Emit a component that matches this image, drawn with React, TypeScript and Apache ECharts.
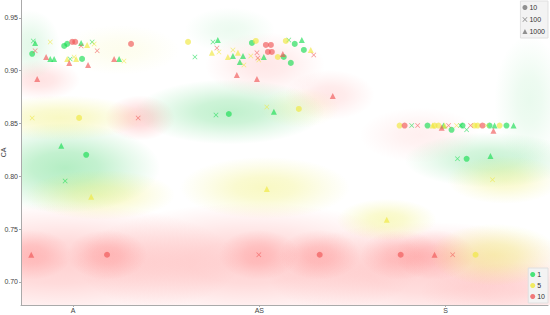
import React, { useEffect, useRef } from "react";
import * as echarts from "echarts";

// Category ticks (x positions 0,1,2 on a jittered value axis)
const categories = ["A", "AS", "S"];
const yTicks = [0.7, 0.75, 0.8, 0.85, 0.9, 0.95];

// Points: [x (category + jitter), CA]
// green = 1, yellow = 5, red = 10 ; circle = 10, cross = 100, triangle = 1000
const greenCircle = [
  [-0.22, 0.916], [-0.048, 0.9235], [-0.032, 0.9254], [0.048, 0.9112], [0.07, 0.8203],
  [0.836, 0.859], [0.96, 0.9263], [1.131, 0.913], [1.169, 0.9074], [1.19, 0.9254], [1.239, 0.9197],
  [2.113, 0.8165], [1.903, 0.848], [2.032, 0.844], [2.091, 0.848], [2.236, 0.848], [2.327, 0.848],
];
const greenCross = [
  [-0.214, 0.9282], [-0.016, 0.9112], [0.102, 0.9273], [-0.043, 0.7956],
  [0.751, 0.9273], [0.654, 0.913], [1.158, 0.9292], [0.767, 0.8581],
  [2.064, 0.8165], [1.818, 0.848], [2.08, 0.848], [2.113, 0.844],
];
const greenTri = [
  [-0.204, 0.9263], [-0.123, 0.9112], [-0.102, 0.9112], [0.043, 0.9263], [0.247, 0.9112], [-0.064, 0.8288],
  [0.777, 0.9292], [0.858, 0.914], [0.912, 0.914], [0.895, 0.9083], [1.024, 0.913], [1.228, 0.9292], [1.078, 0.861],
  [2.241, 0.8193], [1.989, 0.848], [2.263, 0.848], [2.365, 0.848],
];
const yellowCircle = [
  [0.032, 0.8553], [0.617, 0.9273], [0.981, 0.9282], [1.099, 0.913], [1.142, 0.9282], [1.212, 0.8638],
  [2.161, 0.7256], [1.753, 0.848], [1.941, 0.848], [1.962, 0.848], [2.155, 0.848], [2.172, 0.848], [2.29, 0.848],
];
const yellowCross = [
  [-0.123, 0.9273], [-0.22, 0.8553], [0.113, 0.9254], [0.005, 0.913], [0.273, 0.9093],
  [0.783, 0.9178], [0.858, 0.9197], [0.917, 0.9055], [0.954, 0.914], [0.997, 0.9102], [1.04, 0.8657],
  [2.252, 0.7966], [2.059, 0.848], [2.22, 0.848],
];
const yellowTri = [
  [-0.032, 0.9112], [0.016, 0.9112], [0.075, 0.9244], [0.097, 0.7805],
  [0.745, 0.9169], [0.831, 0.913], [0.885, 0.9169], [1.276, 0.9197], [1.04, 0.788],
  [1.684, 0.7587], [1.93, 0.848], [1.995, 0.848],
];
const redCircle = [
  [-0.005, 0.9273], [0.011, 0.9273], [0.311, 0.9254], [0.182, 0.7256],
  [1.035, 0.9244], [1.062, 0.9244], [1.046, 0.9178], [1.067, 0.9178], [1.324, 0.7256],
  [1.759, 0.7256], [1.78, 0.848], [2.198, 0.848],
];
const redCross = [
  [-0.204, 0.9188], [0.043, 0.9235], [0.129, 0.9188], [0.349, 0.8553],
  [0.772, 0.9216], [0.987, 0.9169], [0.992, 0.9121], [1.292, 0.915], [0.997, 0.7256],
  [2.038, 0.7256], [1.85, 0.848], [2.016, 0.848], [2.134, 0.848],
];
const redTri = [
  [-0.145, 0.913], [-0.193, 0.8922], [-0.021, 0.9074], [0.08, 0.9055], [0.22, 0.9112], [-0.225, 0.7256],
  [0.879, 0.896], [0.987, 0.8922], [1.126, 0.9159], [1.394, 0.8761],
  [1.941, 0.7256], [1.979, 0.846], [2.257, 0.843],
];

// Background density blobs: centres [x, CA]
const redBlobs = [
  [-0.07, 0.718], [0.95, 0.718], [1.9, 0.707], [2.4, 0.69],
  [-0.225, 0.7256], [0.182, 0.7256], [0.997, 0.7256], [1.324, 0.7256], [1.759, 0.7256], [1.941, 0.7256],
  [-0.177, 0.8913], [0.359, 0.8553], [1.03, 0.9055], [1.378, 0.877], [1.86, 0.839],
];
const greenBlobs = [
  [-0.043, 0.808], [0.842, 0.861], [2.236, 0.8155], [-0.231, 0.9244], [0.842, 0.9386], [2.45, 0.872],
];
const yellowBlobs = [
  [-0.07, 0.8553], [0.145, 0.7824], [1.03, 0.789], [1.684, 0.7587], [2.316, 0.7966], [2.263, 0.7256],
  [0.252, 0.9197], [1.217, 0.8648],
];

// blob styles: [width px, height px, alpha]
const redBlobStyle = [
  [360, 120, 0.34], [350, 120, 0.34], [320, 105, 0.32], [200, 60, 0.2],
  [80, 50, 0.3], [80, 50, 0.3], [80, 50, 0.3], [80, 50, 0.3], [80, 50, 0.3], [80, 50, 0.3],
  [80, 40, 0.22], [70, 45, 0.32], [120, 65, 0.18], [90, 50, 0.18], [120, 55, 0.12],
];
const greenBlobStyle = [
  [190, 90, 0.48], [190, 65, 0.4], [170, 55, 0.35], [60, 70, 0.18], [90, 45, 0.12], [70, 130, 0.14],
];
const yellowBlobStyle = [
  [170, 45, 0.4], [150, 50, 0.4], [170, 62, 0.4], [100, 42, 0.4], [115, 48, 0.35], [130, 62, 0.45],
  [120, 50, 0.12], [80, 40, 0.18],
];

const GREEN = "rgba(20,220,80,0.8)";
const YELLOW = "rgba(240,232,60,0.8)";
const RED = "rgba(240,85,85,0.8)";
const CROSS =
  "path://M1,0 L5,4 L9,0 L10,1 L6,5 L10,9 L9,10 L5,6 L1,10 L0,9 L4,5 L0,1 Z";

const legendNames: Record<string, string> = {
  s10: "10", s100: "100", s1000: "1000", c1: "1", c5: "5", c10: "10",
};

const GRID = { left: 21, right: 2, top: 0, bottom: 10 };

function blobSeries(centres: number[][], styles: number[][], rgb: string) {
  return {
    type: "scatter",
    silent: true,
    z: 1,
    symbol: "circle",
    data: centres.map((c, i) => {
      const [w, h, a] = styles[i];
      return {
        value: c,
        symbolSize: [w, h],
        itemStyle: {
          color: new echarts.graphic.RadialGradient(0.5, 0.5, 0.5, [
            { offset: 0, color: `rgba(${rgb},${a})` },
            { offset: 0.35, color: `rgba(${rgb},${(a * 0.8).toFixed(3)})` },
            { offset: 0.7, color: `rgba(${rgb},${(a * 0.35).toFixed(3)})` },
            { offset: 1, color: `rgba(${rgb},0)` },
          ]),
        },
      };
    }),
  };
}

function pointSeries(name: string, data: number[][], symbol: string, color: string, size: number) {
  return {
    name,
    type: "scatter",
    z: 5,
    symbol,
    symbolSize: size,
    data,
    itemStyle: { color },
  };
}

function legendSeries(name: string, symbol: string, color: string) {
  return { name, type: "scatter", symbol, data: [], itemStyle: { color } };
}

export default function App() {
  const ref = useRef<HTMLDivElement>(null);
  useEffect(() => {
    if (!ref.current) return;
    const chart = echarts.init(ref.current, null, { renderer: "svg" });
    const font = "Liberation Sans";
    const W = 550;
    const H = 315;
    chart.setOption({
      animation: false,
      backgroundColor: "#fff",
      grid: { ...GRID, outerBoundsMode: "none", containLabel: false },
      graphic: [
        // mask blob overflow outside the plotting area
        { type: "rect", z: 4, silent: true, shape: { x: 0, y: 0, width: GRID.left, height: H }, style: { fill: "#fff" } },
        { type: "rect", z: 4, silent: true, shape: { x: 0, y: H - GRID.bottom, width: W, height: GRID.bottom }, style: { fill: "#fff" } },
      ],
      xAxis: {
        type: "value",
        min: -0.28,
        max: 2.55,
        z: 10,
        splitLine: { show: false },
        axisLine: { show: true, onZero: false, lineStyle: { color: "#aaa" } },
        axisTick: { show: true, customValues: [0, 1, 2], length: 2, lineStyle: { color: "#aaa" } },
        axisLabel: {
          customValues: [0, 1, 2],
          formatter: (v: number) => categories[Math.round(v)] ?? "",
          fontSize: 7,
          fontFamily: font,
          color: "#444",
          margin: 2,
        },
      },
      yAxis: {
        type: "value",
        min: 0.678,
        max: 0.967,
        z: 10,
        name: "CA",
        nameLocation: "middle",
        nameGap: 14,
        nameMoveOverlap: false,
        nameTextStyle: { fontSize: 7, fontFamily: font, color: "#444" },
        splitLine: { show: false },
        axisLine: { show: true, onZero: false, lineStyle: { color: "#aaa" } },
        axisTick: { show: true, customValues: yTicks, length: 2, lineStyle: { color: "#aaa" } },
        axisLabel: {
          customValues: yTicks,
          formatter: (v: number) => v.toFixed(2),
          fontSize: 7,
          fontFamily: font,
          color: "#444",
          margin: 3,
        },
      },
      legend: [
        {
          data: [
            { name: "s10", icon: "circle" },
            { name: "s100", icon: CROSS },
            { name: "s1000", icon: "triangle" },
          ],
          orient: "vertical",
          right: 2,
          top: 1,
          z: 12,
          itemWidth: 5,
          itemHeight: 5,
          itemGap: 5,
          padding: [3, 3, 3, 2],
          backgroundColor: "#f3f3f3",
          borderColor: "#e0e0e0",
          borderWidth: 1,
          formatter: (n: string) => legendNames[n] ?? n,
          textStyle: { fontSize: 7, fontFamily: font, color: "#333", padding: [0, 0, 0, -3] },
        },
        {
          data: [
            { name: "c1", icon: "circle" },
            { name: "c5", icon: "circle" },
            { name: "c10", icon: "circle" },
          ],
          orient: "vertical",
          right: 2,
          bottom: 12,
          z: 12,
          itemWidth: 5,
          itemHeight: 5,
          itemGap: 4,
          padding: [3, 3, 3, 2],
          backgroundColor: "#f3f3f3",
          borderColor: "#e0e0e0",
          borderWidth: 1,
          formatter: (n: string) => legendNames[n] ?? n,
          textStyle: { fontSize: 7, fontFamily: font, color: "#333", padding: [0, 0, 0, -3] },
        },
      ],
      series: [
        blobSeries(redBlobs, redBlobStyle, "255,90,90"),
        blobSeries(greenBlobs, greenBlobStyle, "60,210,100"),
        blobSeries(yellowBlobs, yellowBlobStyle, "235,235,70"),
        pointSeries("g_c", greenCircle, "circle", GREEN, 6),
        pointSeries("g_x", greenCross, CROSS, GREEN, 5),
        pointSeries("g_t", greenTri, "triangle", GREEN, 6),
        pointSeries("y_c", yellowCircle, "circle", YELLOW, 6),
        pointSeries("y_x", yellowCross, CROSS, YELLOW, 5),
        pointSeries("y_t", yellowTri, "triangle", YELLOW, 6),
        pointSeries("r_c", redCircle, "circle", RED, 6),
        pointSeries("r_x", redCross, CROSS, RED, 5),
        pointSeries("r_t", redTri, "triangle", RED, 6),
        legendSeries("s10", "circle", "#777"),
        legendSeries("s100", CROSS, "#777"),
        legendSeries("s1000", "triangle", "#777"),
        legendSeries("c1", "circle", "#1ee05a"),
        legendSeries("c5", "circle", "#f0e83c"),
        legendSeries("c10", "circle", "#f05a5a"),
      ],
    });
    return () => chart.dispose();
  }, []);
  return (
    <div
      ref={ref}
      style={{ position: "fixed", left: 0, top: 0, width: 550, height: 315 }}
    />
  );
}
